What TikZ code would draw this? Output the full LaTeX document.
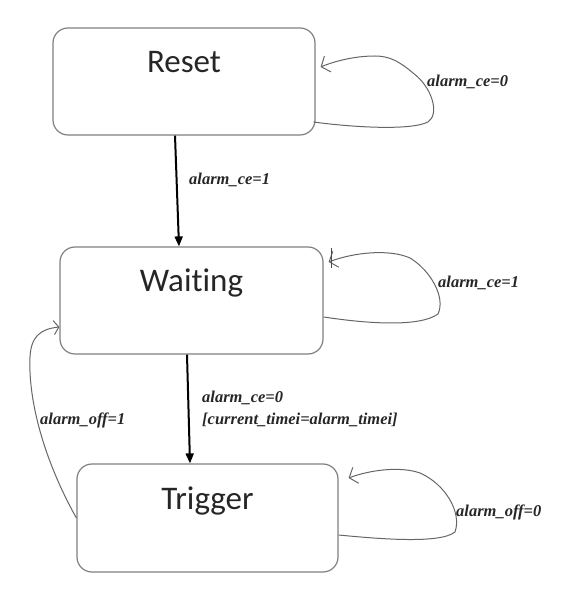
\documentclass[tikz,border=0pt]{standalone}
\usepackage{fontspec}
\setmainfont{Liberation Serif}
\newfontfamily\boxfont[Ligatures=NoCommon]{Carlito}
\usetikzlibrary{arrows.meta,calc}
\begin{document}
\begin{tikzpicture}[x=1pt,y=1pt,
  statebox/.style={draw=black!50, line width=1.2pt, rounded corners=15pt, fill=white,
    minimum width=#1, minimum height=107pt, inner sep=0pt},
  statebox/.default=262pt,
  boxtext/.style={anchor=base, font=\boxfont\fontsize{33}{36}\selectfont, text=black!85},
  mainarrow/.style={draw=black, line width=2pt, -{Triangle[length=10pt,width=8pt]}},
  loopline/.style={draw=black!60, line width=1pt, -{Straight Barb[length=7pt,width=17pt]}},
  cond/.style={anchor=west, inner sep=0pt, font=\bfseries\itshape\fontsize{16.5}{18}\selectfont, text=black!85}
]
\useasboundingbox (0,0) rectangle (571,592);
% states
\node[statebox=262pt] (Reset) at (184,510.5) {};
\node[boxtext] (ResetT) at ($(Reset.center)+(0,9)$) {Reset};
\node[statebox=263pt] (Waiting) at (191.5,291.5) {};
\node[boxtext] (WaitingT) at ($(Waiting.center)+(0,9)$) {Wait\kern0pt ing};
\node[statebox=261pt, minimum height=108pt] (Trigger) at (207.5,74) {};
\node[boxtext] (TriggerT) at ($(Trigger.center)+(0,8)$) {Trigger};
% main transitions
\draw[mainarrow] ([xshift=-9pt]Reset.south) -- ([xshift=-12.5pt]Waiting.north);
\draw[mainarrow] ([xshift=-4.5pt]Waiting.south) -- ([xshift=-17.5pt]Trigger.north);
% self loops
\coordinate (r1) at ($(Reset.east)+(-2,-40.5)$);
\coordinate (r2) at ($(Reset.east)+(5,14.5)$);
\draw[loopline] (r1) .. controls (350,465) and (410,461) .. (428,470)
  .. controls (440,478) and (432,505) .. (413,519)
  .. controls (400,530) and (390,536) .. (375,536)
  .. controls (355,536) and (335,531) .. (r2);
\coordinate (w1) at ($(Waiting.east)+(0,-16.5)$);
\coordinate (w2) at ($(Waiting.east)+(5,38.5)$);
\draw[loopline] (w1) .. controls (370,268) and (420,265) .. (438,278)
  .. controls (446,295) and (430,322) .. (410,334)
  .. controls (390,343) and (355,340) .. (w2);
\coordinate (ws1) at ($(Waiting.east)+(8,52)$);
\coordinate (ws2) at ($(Waiting.east)+(8,32)$);
\draw[draw=black!70, line width=1pt] (ws1) -- (ws2);
\coordinate (t1) at ($(Trigger.east)+(0,-17)$);
\coordinate (t2) at ($(Trigger.east)+(10,40)$);
\draw[loopline] (t1) .. controls (380,53) and (440,48) .. (455,60)
  .. controls (462,80) and (445,108) .. (420,119)
  .. controls (400,126) and (370,122) .. (t2);
% back transition
\coordinate (wb) at ($(Waiting.west)+(0,-26.5)$);
\draw[loopline, -{Straight Barb[length=5pt,width=14pt]}] (Trigger.west) .. controls (45,130) and (28,190) .. (30,235)
  .. controls (31,255) and (40,263) .. (wb);
% conditions
\node[cond] (c1) at (189,412) {alarm\_ce=1};
\node[cond] (c2) at (202,194) {alarm\_ce=0};
\node[cond] (c3) at (202,172) {[current\_timei=alarm\_timei]};
\node[cond] (c4) at (427,510) {alarm\_ce=0};
\node[cond] (c5) at (438,309) {alarm\_ce=1};
\node[cond] (c6) at (456,80) {alarm\_off=0};
\node[cond] (c7) at (40,172) {alarm\_off=1};
\end{tikzpicture}
\end{document}
